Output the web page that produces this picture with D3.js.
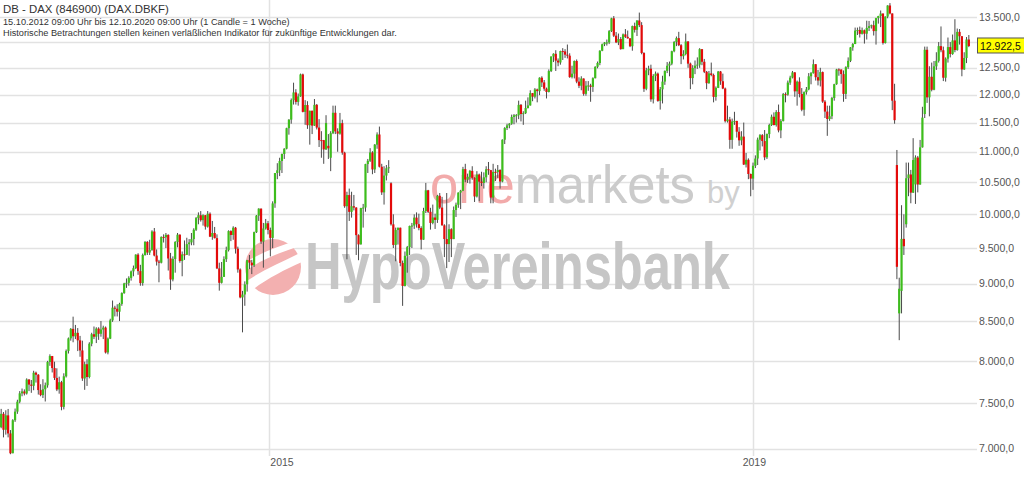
<!DOCTYPE html>
<html><head><meta charset="utf-8">
<script src="https://cdn.jsdelivr.net/npm/d3@7"></script>
<style>html,body{margin:0;padding:0;background:#fff;overflow:hidden}svg{display:block;font-family:"Liberation Sans",Arial,sans-serif}</style>
</head><body><svg id="c" width="1024" height="478"></svg>
<script>
// ---- data (weekly candles, DAX, 15.10.2012 - 12.10.2020) ----
const startWeek = "2012-10-15";
const endWeek = "2020-10-12";
const opens = [
7232,7380,7203,7363,7163,6950,7309,7405,7518,7614,7636,7612,
7776,7716,7702,7857,7833,7652,7594,7661,7708,7986,8059,7913,7795,7659,7744,7459,7814,8122,8279,8399,8305,8349,8254,8128,7789,7959,7806,8212,8331,8300,8403,8337,8391,8416,8103,8276,8509,8675,8661,8622,8725,8870,9001,9010,9078,9168,9213,9405,9172,9006,9400,9589,
9435,9473,9742,9392,9306,9290,9662,9656,9692,9350,9056,9343,9588,9695,9315,9409,9402,9556,9581,9630,9768,9943,9987,9912,9987,9815,10009,9666,9720,9644,9210,9010,9092,9340,9470,9748,9691,9799,9490,9195,8812,8851,8988,9326,9291,9252,9732,9980,10087,9594,9787,9865,
9764,9648,10168,10649,10694,10846,10963,11051,11402,11551,11901,12040,11868,11968,12375,11689,11811,11454,11709,11447,11815,11413,11197,11196,11040,11100,10900,11316,11673,11347,11308,11490,10985,10124,10298,10038,10124,10104,9688,9553,10096,10104,10795,10850,10988,10708,11120,11293,10752,10340,10608,10727,
10485,9849,9545,9764,9798,9286,8967,9388,9513,9824,9831,9950,9851,9794,9622,10051,10373,10039,9870,9952,9916,10287,10103,9834,9631,9557,9776,9630,10066,10147,10337,10367,10713,10544,10588,10684,10573,10276,10626,10511,10490,10580,10711,10696,10259,10668,10664,10699,10513,11203,11404,11450,
11481,11599,11629,11630,11814,11651,11666,11757,11804,12027,11963,12095,12064,12313,12225,12109,12049,12438,12717,12770,12638,12602,12823,12816,12753,12733,12325,12389,12631,12240,12163,12298,12014,12165,12168,12143,12304,12519,12592,12829,12956,12992,12992,13218,13479,13127,12994,13060,12861,13153,13104,13073,
12918,13320,13245,13434,13340,12785,12107,12452,12483,11914,12346,12390,11886,12097,12241,12442,12540,12580,12820,13001,13078,12938,12724,12767,13011,12580,12306,12496,12541,12561,12860,12616,12424,12211,12394,12364,11959,12124,12430,12247,12112,11524,11554,11201,11519,11529,11341,11193,11257,10788,10866,10634,
10559,10768,10887,11205,11282,11181,10907,11300,11458,11602,11458,11686,11364,11526,12009,11999,12222,12315,12413,12060,12239,12011,11727,12045,12096,12340,12399,12569,12323,12260,12419,11873,11694,11563,11612,11939,12192,12469,12468,12381,12013,12512,12634,12895,12961,13229,13242,13164,13236,13167,13283,13319,
13337,13219,13483,13526,13577,12982,13514,13744,13579,11890,10780,8600,8900,9633,9850,10565,10626,10336,10467,10904,10465,11074,11650,12848,11950,12331,12089,12528,12634,12920,12838,12313,12675,12901,12765,13033,12843,13203,13116,12469,12689,13051
];
const highs = [
7436,7400,7420,7435,7200,7320,7440,7540,7640,7670,7660,7790,
7780,7770,7880,7870,7840,7720,7780,7740,8000,8080,8060,7990,7910,7810,7760,7850,8140,8290,8410,8557,8450,8410,8310,8250,7990,8020,8230,8350,8430,8420,8420,8500,8440,8430,8290,8530,8770,8700,8720,8740,8880,9010,9070,9100,9180,9250,9410,9425,9260,9420,9600,9600,
9620,9760,9794,9480,9330,9670,9700,9720,9700,9430,9380,9600,9720,9700,9450,9610,9650,9630,9720,9790,9960,10030,10050,10000,9990,10050,10030,9900,9810,9700,9290,9300,9380,9520,9760,9760,9820,9810,9520,9210,8900,9030,9330,9400,9330,9740,9990,10093,10090,9870,9930,9900,
9800,10200,10650,10810,10900,10970,11060,11410,11560,11930,12220,12100,12020,12390,12390,11900,11880,11710,11710,11920,11830,11560,11350,11200,11630,11300,11350,11800,11800,11400,11670,11550,11000,10350,10400,10350,10300,10110,9700,10100,10160,10800,10880,11060,11010,11130,11330,11430,10800,10760,10780,10860,
10500,10000,9800,9800,9800,9320,9450,9530,9830,9870,10000,10030,10010,9820,10100,10490,10380,10100,10150,10010,10300,10330,10270,9850,10330,9850,9790,10120,10180,10340,10380,10750,10800,10640,10700,10760,10580,10680,10640,10670,10660,10760,10830,10700,10800,10720,10780,10710,11210,11420,11480,11490,
11640,11650,11650,11890,11830,11700,11890,11950,12080,12030,12120,12110,12320,12340,12270,12130,12470,12720,12780,12840,12680,12830,12880,12860,12951,12780,12540,12640,12660,12320,12340,12300,12250,12250,12200,12320,12530,12620,12840,12970,13000,13050,13240,13490,13526,13200,13170,13100,13170,13260,13230,13080,
13330,13390,13440,13597,13400,12800,12500,12540,12560,12380,12430,12410,12140,12350,12450,12610,12620,12830,13020,13110,13204,12960,12840,13170,13020,12600,12550,12640,12700,12880,12860,12670,12440,12440,12600,12390,12150,12440,12440,12390,12130,11800,11600,11570,11690,11530,11420,11350,11500,10980,10890,10640,
10820,10940,11240,11300,11300,11370,11310,11480,11640,11680,11720,11820,11560,12030,12040,12260,12350,12440,12420,12260,12320,12120,12060,12140,12400,12420,12660,12570,12460,12500,12430,11900,11800,11800,11960,12200,12480,12490,12470,12450,12530,12700,12900,12980,13290,13290,13310,13290,13250,13430,13425,13350,
13430,13490,13530,13640,13580,13520,13750,13795,13580,12200,11030,9080,10140,10000,10820,10820,10700,11230,10940,10930,11200,11780,12910,12910,12530,12600,12630,12800,13000,13313,12910,12700,13090,13000,13150,13460,13270,13260,13120,12800,13100,13140
];
const lows = [
7220,7120,7150,7120,6940,6950,7290,7380,7500,7580,7590,7600,
7640,7620,7650,7740,7600,7580,7560,7520,7680,7940,7860,7770,7640,7610,7420,7430,7800,8090,8250,8230,8270,8120,8050,7760,7655,7700,7790,8180,8270,8220,8260,8300,8270,8090,8080,8270,8490,8560,8560,8500,8700,8860,8940,8970,9040,9100,9200,9120,8970,8970,9390,9400,
9400,9460,9380,9250,9017,9280,9580,9500,9180,8914,9030,9150,9510,9290,9100,9330,9400,9390,9540,9540,9750,9850,9890,9830,9770,9800,9660,9620,9640,9200,8903,9000,9090,9300,9450,9600,9620,9420,9150,8800,8355,8700,8890,9200,9130,9230,9720,9900,9560,9220,9770,9700,
9380,9500,10100,10550,10600,10650,10880,11040,11290,11480,11820,11820,11800,11960,11680,11460,11390,11120,11300,11440,11380,11080,10900,10800,11030,10880,10680,11300,11300,11000,11290,10950,10100,9338,9900,9950,10060,9400,9325,9550,9800,10040,10650,10830,10630,10650,11050,10740,10300,10150,10530,10650,
9830,9500,9310,9550,9240,8699,8960,9150,9400,9500,9780,9800,9760,9480,9620,10020,10020,9770,9850,9780,9870,10080,9830,9370,9214,9300,9370,9630,9960,10100,10080,10360,10500,10490,10480,10540,10190,10260,10200,10440,10400,10500,10620,10170,10170,10520,10570,10400,10500,11130,11370,11400,
11460,11470,11500,11560,11520,11460,11650,11750,11800,11880,11930,11860,11990,12140,12070,11930,12040,12420,12610,12440,12530,12560,12650,12690,12680,12310,12300,12300,12210,12120,12080,11980,11980,12070,11870,12050,12300,12490,12550,12820,12920,12930,12960,13200,13100,12980,12940,12850,12860,13080,13070,12900,
12830,13190,13120,13300,12760,12050,12080,12360,11870,11840,12250,11870,11730,11840,12180,12400,12340,12550,12800,12920,12920,12570,12660,12740,12500,12100,12190,12380,12480,12500,12550,12400,12100,12200,12340,11860,11890,12120,12180,12100,11500,11500,11050,11050,11460,11240,11100,11110,10780,10740,10550,10279,
10380,10730,10780,11020,11090,10860,10880,11230,11440,11450,11430,11330,11230,11520,11860,11980,12180,12300,11960,11800,11950,11700,11620,12000,12080,12190,12390,12260,12170,12150,11850,11580,11270,11530,11560,11890,12180,12350,12200,11870,11920,12480,12610,12830,12960,13140,13090,13150,12970,13050,13220,13270,
13130,12950,13370,13300,12950,12970,13480,13560,11720,11480,9060,8256,8600,9400,9800,10280,10170,10330,10160,10340,10460,11070,11580,11850,11610,12060,12080,12460,12600,12800,12250,12240,12600,12700,12750,12800,12830,12950,12340,12460,12590,12900
];
const closes = [
7380,7203,7363,7163,6950,7309,7405,7518,7614,7636,7612,7776,
7716,7702,7857,7833,7652,7594,7661,7708,7986,8059,7913,7795,7659,7744,7459,7814,8122,8279,8399,8305,8349,8254,8128,7789,7959,7806,8212,8331,8300,8403,8337,8391,8416,8103,8276,8509,8675,8661,8622,8725,8870,9001,9010,9078,9168,9213,9405,9172,9006,9400,9589,9435,
9473,9742,9392,9306,9290,9662,9656,9692,9350,9056,9343,9588,9695,9315,9409,9402,9556,9581,9630,9768,9943,9987,9912,9987,9815,10009,9666,9720,9644,9210,9010,9092,9340,9470,9748,9691,9799,9490,9195,8812,8851,8988,9326,9291,9252,9732,9980,10087,9594,9787,9865,9764,
9648,10168,10649,10694,10846,10963,11051,11402,11551,11901,12040,11868,11968,12375,11689,11811,11454,11709,11447,11815,11413,11197,11196,11040,11492,11058,11316,11673,11347,11308,11490,10985,10124,10298,10038,10124,10104,9688,9553,10096,10104,10795,10850,10988,10708,11120,11293,10752,10340,10608,10727,10743,
9849,9545,9764,9798,9286,8967,9388,9513,9824,9831,9950,9851,9794,9622,10051,10373,10039,9870,9952,9916,10287,10103,9834,9631,9557,9776,9630,10066,10147,10337,10367,10713,10544,10588,10684,10573,10276,10626,10511,10490,10580,10711,10696,10259,10668,10664,10699,10513,11203,11404,11450,11481,
11599,11629,11630,11814,11651,11666,11757,11804,12027,11963,12095,12064,12313,12225,12109,12049,12438,12717,12770,12638,12602,12823,12816,12753,12733,12325,12389,12631,12240,12163,12298,12014,12165,12168,12143,12304,12519,12592,12829,12956,12992,12992,13218,13479,13127,12994,13060,12861,13153,13104,13073,12918,
13320,13245,13434,13340,12785,12107,12452,12483,11914,12346,12390,11886,12097,12241,12442,12540,12580,12820,13001,13078,12938,12724,12767,13011,12580,12306,12496,12541,12561,12860,12616,12424,12211,12394,12364,11959,12124,12430,12247,12112,11524,11554,11201,11519,11529,11341,11193,11257,10788,10866,10634,10559,
10768,10887,11205,11282,11181,10907,11300,11458,11602,11458,11686,11364,11526,12009,11999,12222,12315,12413,12060,12239,12011,11727,12045,12096,12340,12399,12569,12323,12260,12419,11873,11694,11563,11612,11939,12192,12469,12468,12381,12013,12512,12634,12895,12961,13229,13242,13164,13236,13167,13283,13319,13337,
13219,13483,13526,13577,12982,13514,13744,13579,11890,11542,9232,8929,9633,9526,10565,10626,10336,10862,10904,10465,11074,11587,12848,11950,12331,12089,12528,12634,12920,12838,12313,12675,12901,12765,13033,12843,13203,13116,12469,12689,13051,12922.5
];
const yTicks = [7000,7500,8000,8500,9000,9500,10000,10500,11000,11500,12000,12500,13000,13500];
const xTickYears = [2015, 2019];
const lastPrice = 12922.5;
const titleLines = [
  "DB - DAX (846900) (DAX.DBKF)",
  "15.10.2012 09:00 Uhr bis 12.10.2020 09:00 Uhr (1 Candle = 1 Woche)",
  "Historische Betrachtungen stellen keinen verläßlichen Indikator für zukünftige Entwicklungen dar."
];

// ---- drawing ----
const svg = d3.select("#c");
const W = 1024, H = 478, plotR = 970, plotB = 458;
const weeks = d3.utcMonday.range(new Date(startWeek), d3.utcDay.offset(new Date(endWeek), 1));
const n = Math.min(weeks.length, opens.length, highs.length, lows.length, closes.length);

const x = d3.scaleUtc()
  .domain([d3.utcHour.offset(weeks[0], -84), d3.utcHour.offset(weeks[n - 1], 84)])
  .range([0, plotR]);
const y = d3.scaleLog().domain([6900, 13860]).range([plotB, 0]);

const de = d3.formatLocale({decimal: ",", thousands: ".", grouping: [3], currency: ["", "€"]});
const fmt = de.format(",.1f");

svg.append("rect").attr("width", W).attr("height", H).attr("fill", "#fff");

// grid
const grid = svg.append("g");
grid.selectAll("line.h").data(yTicks).join("line")
  .attr("x1", 0).attr("x2", 977)
  .attr("y1", d => Math.round(y(d)) + 0.5).attr("y2", d => Math.round(y(d)) + 0.5)
  .attr("stroke", "#e2e2e2").attr("stroke-width", 1.5);
grid.selectAll("line.v").data(xTickYears).join("line")
  .attr("x1", d => Math.round(x(new Date(Date.UTC(d, 0, 1)))) + 0.5)
  .attr("x2", d => Math.round(x(new Date(Date.UTC(d, 0, 1)))) + 0.5)
  .attr("y1", 0).attr("y2", 456)
  .attr("stroke", "#e2e2e2").attr("stroke-width", 1.5);

// watermark
const wm = svg.append("g");
wm.append("text").attr("x", 430).attr("y", 203).attr("font-size", 54)
  .attr("textLength", 265).attr("lengthAdjust", "spacingAndGlyphs")
  .call(t => {
    t.append("tspan").attr("fill", "#f2aaaa").text("one");
    t.append("tspan").attr("fill", "#cbcbcb").text("markets");
  });
wm.append("text").attr("x", 707).attr("y", 203).attr("font-size", 31)
  .attr("fill", "#d0d0d0").text("by");
wm.append("circle").attr("cx", 273).attr("cy", 267).attr("r", 28).attr("fill", "#f3b0b0");
wm.append("path").attr("d", "M244,283 C262,270 282,262 302,252 L302,262 C284,270 264,280 250,292 Z").attr("fill", "#fff");
wm.append("path").attr("d", "M246,262 C262,252 280,246 298,240 L300,246 C282,252 264,258 247,270 Z").attr("fill", "#fff");
wm.append("text").attr("x", 305).attr("y", 289).attr("font-size", 66).attr("font-weight", "bold")
  .attr("textLength", 425).attr("lengthAdjust", "spacingAndGlyphs")
  .attr("fill", "#c6c6c6").text("HypoVereinsbank");

// candles
const idx = d3.range(n);
const cg = svg.append("g");
cg.selectAll("line.w").data(idx).join("line")
  .attr("x1", i => x(weeks[i])).attr("x2", i => x(weeks[i]))
  .attr("y1", i => y(highs[i])).attr("y2", i => y(lows[i]))
  .attr("stroke", "#4a4a4a").attr("stroke-width", 1);
cg.selectAll("rect.b").data(idx).join("rect")
  .attr("x", i => x(weeks[i]) - 1.1).attr("width", 2.2)
  .attr("y", i => y(Math.max(opens[i], closes[i])))
  .attr("height", i => Math.max(1, Math.abs(y(opens[i]) - y(closes[i]))))
  .attr("fill", i => closes[i] >= opens[i] ? "#3dbd1c" : "#e30a0a");

// y labels
svg.append("g").selectAll("text").data(yTicks).join("text")
  .attr("x", 979).attr("y", d => y(d)).attr("dy", "0.35em")
  .attr("font-size", 10.5).attr("fill", "#555").text(d => fmt(d));

// last price box
const lp = svg.append("g");
lp.append("rect").attr("x", 977.5).attr("y", y(lastPrice) - 8).attr("width", 50).attr("height", 15)
  .attr("fill", "#ffff00").attr("stroke", "#555").attr("stroke-width", 1);
lp.append("text").attr("x", 980).attr("y", y(lastPrice)).attr("dy", "0.35em")
  .attr("font-size", 10.5).attr("fill", "#111").text(fmt(lastPrice));

// x labels
svg.append("g").selectAll("text").data(xTickYears).join("text")
  .attr("x", d => x(new Date(Date.UTC(d, 0, 1))) + (d === 2015 ? 13 : 1))
  .attr("y", 466).attr("text-anchor", "middle")
  .attr("font-size", 10.5).attr("fill", "#555").text(d => d);

// header
const hd = svg.append("g").attr("fill", "#333");
hd.append("text").attr("x", 3).attr("y", 13).attr("font-size", 11.4).text(titleLines[0]);
hd.append("text").attr("x", 3).attr("y", 25).attr("font-size", 9.2).text(titleLines[1]);
hd.append("text").attr("x", 3).attr("y", 36).attr("font-size", 9.2).text(titleLines[2]);
</script></body></html>
